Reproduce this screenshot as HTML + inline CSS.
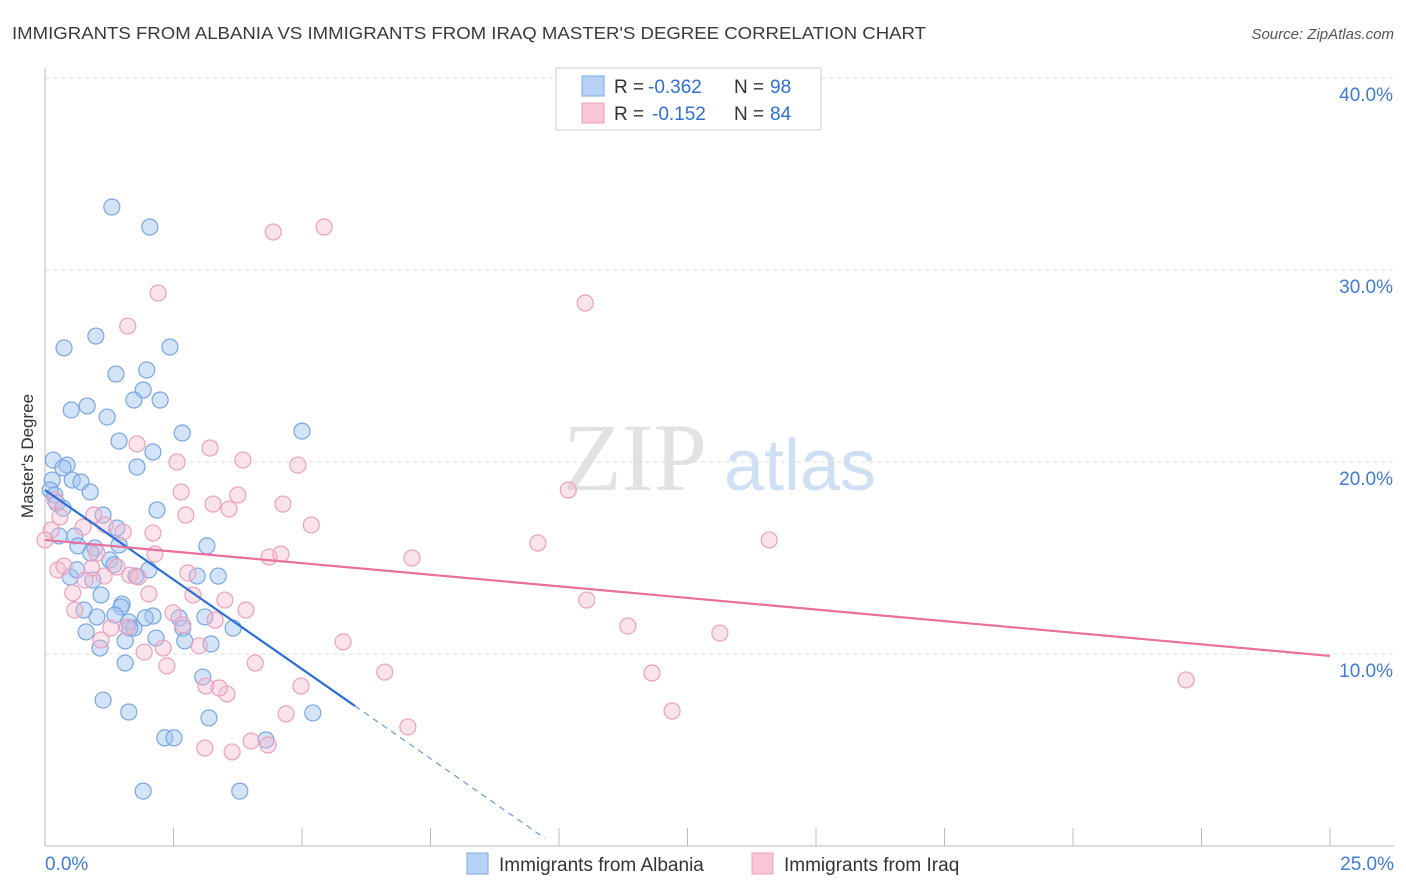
<!DOCTYPE html>
<html><head><meta charset="utf-8"><style>
body{margin:0;background:#fff;font-family:"Liberation Sans",sans-serif;}
svg{display:block}
</style></head><body>
<svg id="chart" width="1406" height="892" xmlns="http://www.w3.org/2000/svg" font-family="Liberation Sans, sans-serif">
<text x="12" y="39" font-size="17.5" fill="#3a3a3a" textLength="914" lengthAdjust="spacingAndGlyphs">IMMIGRANTS FROM ALBANIA VS IMMIGRANTS FROM IRAQ MASTER'S DEGREE CORRELATION CHART</text>
<text x="1394" y="39" font-size="15" fill="#555" font-style="italic" text-anchor="end">Source: ZipAtlas.com</text>
<g id="watermark">
<text x="635" y="490" font-size="96" fill="#e2e2e2" font-family="Liberation Serif, serif" text-anchor="middle">ZIP</text>
<text x="800" y="490" font-size="72" fill="#cfe0f4" text-anchor="middle">atlas</text>
</g>
<g id="grid"></g>
<g id="axes"></g>
<g id="points"></g>
<g id="trends"></g>
<text transform="translate(33,456) rotate(-90)" font-size="17" fill="#333" text-anchor="middle">Master's Degree</text>
<g>
<rect x="556" y="68" width="265" height="62" fill="#fff" stroke="#ccc"/>
<rect x="582" y="76" width="22" height="20" fill="#b8d2f5" stroke="#7aa8e6"/>
<rect x="582" y="103" width="22" height="20" fill="#f8c6d6" stroke="#eba0bb"/>
<text x="614" y="93" font-size="19" fill="#333">R =</text>
<text x="648" y="93" font-size="19" fill="#2f6fd6">-0.362</text>
<text x="734" y="93" font-size="19" fill="#333">N =</text>
<text x="770" y="93" font-size="19" fill="#2f6fd6">98</text>
<text x="614" y="120" font-size="19" fill="#333">R =</text>
<text x="652" y="120" font-size="19" fill="#2f6fd6">-0.152</text>
<text x="734" y="120" font-size="19" fill="#333">N =</text>
<text x="770" y="120" font-size="19" fill="#2f6fd6">84</text>
</g>
<g>
<rect x="467" y="853" width="21" height="21" fill="#b8d2f5" stroke="#7aa8e6"/>
<text x="499" y="871" font-size="19" fill="#333">Immigrants from Albania</text>
<rect x="752" y="853" width="21" height="21" fill="#f8c6d6" stroke="#eba0bb"/>
<text x="784" y="871" font-size="19" fill="#333">Immigrants from Iraq</text>
</g>
</svg>
<script>
const xTicks=[0,2.5,5,7.5,10,12.5,15,17.5,20,22.5,25];
const yTicks=[10,20,30,40];
const yTickLabels=["10.0%","20.0%","30.0%","40.0%"];
const albaniaX=[1.30,2.04,0.37,0.99,2.43,1.38,1.98,1.91,0.51,0.82,1.21,1.73,2.24,1.44,2.67,5.00,2.10,1.79,0.16,0.43,0.35,0.14,0.53,0.70,0.88,0.10,0.19,0.23,0.35,1.13,2.18,0.58,0.27,1.40,0.97,0.64,0.89,1.26,1.44,3.15,0.49,0.62,0.93,1.34,2.02,1.77,2.96,3.37,1.09,1.50,0.76,1.01,1.48,1.63,1.73,2.10,1.95,2.61,3.11,3.66,0.80,1.07,1.56,2.16,2.68,2.72,3.23,1.56,3.07,1.13,1.63,3.19,5.21,2.33,2.51,4.30,1.91,3.79,1.36,1.65];
const albaniaY=[33.28,32.24,25.94,26.56,25.99,24.58,24.79,23.75,22.71,22.92,22.34,23.23,23.23,21.09,21.51,21.61,20.52,19.74,20.10,19.84,19.69,19.06,19.06,18.96,18.44,18.54,18.28,17.86,17.60,17.24,17.50,16.15,16.15,16.56,15.52,15.63,15.26,14.90,15.68,15.63,14.01,14.38,13.85,14.64,14.38,14.06,14.06,14.06,13.07,12.60,12.29,11.93,12.45,11.67,11.35,11.98,11.88,11.88,11.93,11.35,11.15,10.31,10.68,10.83,11.35,10.68,10.52,9.53,8.80,7.60,6.98,6.67,6.93,5.63,5.63,5.52,2.86,2.86,12.03,11.35];
const iraqX=[5.43,4.44,2.20,10.51,1.61,3.21,3.85,4.92,1.79,2.57,10.18,2.65,3.75,4.63,3.27,3.58,2.74,5.18,0.19,0.29,0.12,0.00,0.95,1.17,1.52,2.10,9.59,14.09,7.14,4.36,4.59,2.14,1.01,0.25,0.91,0.78,1.40,1.15,1.65,1.81,2.78,2.88,2.02,3.50,3.91,10.54,11.34,13.13,1.28,1.60,2.49,2.68,3.31,5.80,1.09,0.54,0.58,1.93,2.30,3.00,2.37,4.09,6.61,11.81,22.20,3.13,3.54,3.39,4.98,12.20,4.69,7.06,3.11,3.64,4.01,4.34,0.37,0.74];
const iraqY=[32.24,31.98,28.80,28.28,27.08,20.73,20.10,19.84,20.94,20.00,18.54,18.44,18.28,17.81,17.81,17.55,17.24,16.72,18.02,17.14,16.46,15.94,17.24,16.72,16.35,16.30,15.78,15.94,15.00,15.05,15.21,15.21,15.26,14.38,14.48,13.85,14.53,14.06,14.11,14.01,14.22,13.07,13.13,12.81,12.29,12.81,11.46,11.09,11.35,11.41,12.14,11.51,11.77,10.63,10.73,13.18,12.29,10.10,10.31,10.42,9.38,9.53,9.06,9.01,8.65,8.33,7.92,8.23,8.33,7.03,6.88,6.20,5.10,4.90,5.47,5.26,14.58,16.61];
const albaniaTrend=[18.54,-1.865]; // intercept, slope
const albaniaSolidEnd=6.03, albaniaDashEnd=9.73;
const iraqTrend=[15.94,-0.2416];

const X=v=>45+v/25*1285;
const Y=v=>846-v*19.2;
const NS="http://www.w3.org/2000/svg";
function mk(tag,attrs,parent){const e=document.createElementNS(NS,tag);for(const k in attrs)e.setAttribute(k,attrs[k]);parent.appendChild(e);return e;}
const grid=document.getElementById('grid'),axes=document.getElementById('axes'),pts=document.getElementById('points'),tr=document.getElementById('trends');
yTicks.forEach((t,i)=>{
  const l=mk('line',{x1:45,x2:1394,y1:Y(t),y2:Y(t),stroke:'#ddd','stroke-dasharray':'4,4'},grid);
  
  
  const tx=mk('text',{x:1393,y:Y(t)+23,'font-size':19,fill:'#3f7bd8','text-anchor':'end'},axes);
  tx.textContent=yTickLabels[i];
  
  
});
const ya=mk('line',{x1:45,x2:45,y1:68,y2:846,stroke:'#bbb'},axes);


const xa=mk('line',{x1:45,x2:1394,y1:846,y2:846,stroke:'#bbb'},axes);


xTicks.forEach(t=>{
  const l=mk('line',{x1:X(t),x2:X(t),y1:828,y2:846,stroke:'#bbb'},axes);
  
  
});
[[0,"0.0%",'start',45],[25,"25.0%",'end',1394]].forEach(d=>{
  const tx=mk('text',{x:d[3],y:870,'font-size':19,fill:'#3f7bd8','text-anchor':d[2]},axes);
  tx.textContent=d[1];
  
  
});
albaniaX.forEach((x,i)=>{
  const c=mk('circle',{cx:X(x),cy:Y(albaniaY[i]),r:8,fill:'rgba(160,196,240,0.45)',stroke:'#78a6e4','stroke-width':1.2},pts);
  
  
});
iraqX.forEach((x,i)=>{
  const c=mk('circle',{cx:X(x),cy:Y(iraqY[i]),r:8,fill:'rgba(246,184,206,0.4)',stroke:'#eca0bc','stroke-width':1.2},pts);
  
  
});
const ay=x=>albaniaTrend[0]+albaniaTrend[1]*x;
const a1=mk('line',{x1:X(0),y1:Y(ay(0)),x2:X(albaniaSolidEnd),y2:Y(ay(albaniaSolidEnd)),stroke:'#2a6fd8','stroke-width':2.2},tr);


const a2=mk('line',{x1:X(albaniaSolidEnd),y1:Y(ay(albaniaSolidEnd)),x2:X(albaniaDashEnd),y2:Y(ay(albaniaDashEnd)),stroke:'#6a9be0','stroke-width':1.2,'stroke-dasharray':'6,5'},tr);


const iy=x=>iraqTrend[0]+iraqTrend[1]*x;
const p1=mk('line',{x1:X(0),y1:Y(iy(0)),x2:X(25),y2:Y(iy(25)),stroke:'#e8709a','stroke-width':2.2},tr);


</script>
</body></html>
